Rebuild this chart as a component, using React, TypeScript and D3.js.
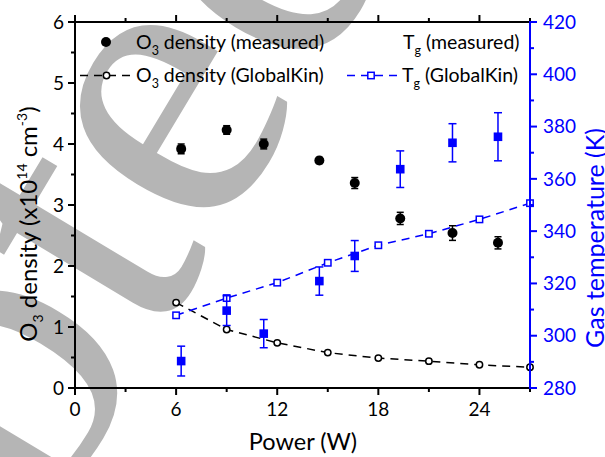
import React from 'react';
import * as d3 from 'd3';

// measured values (error bars are +/-)
const measPower = [6.3, 9.0, 11.2, 14.5, 16.6, 19.3, 22.4, 25.1];
const measO3 = [3.92, 4.23, 4.0, 3.73, 3.36, 2.78, 2.54, 2.38];
const measO3Err = [0.08, 0.07, 0.08, 0.05, 0.09, 0.1, 0.12, 0.1];
const measTg = [290.3, 309.6, 300.8, 320.9, 330.5, 363.7, 373.8, 376.1];
const measTgErr = [5.7, 5.7, 5.4, 5.4, 5.9, 7.0, 7.3, 9.2];

// GlobalKin model
const modelPower = [6, 9, 12, 15, 18, 21, 24, 27];
const modelO3 = [1.4, 0.96, 0.74, 0.58, 0.49, 0.44, 0.38, 0.34];
const modelTg = [307.8, 314.4, 320.3, 327.9, 334.6, 339.0, 344.5, 350.7];

const xTicks = [0, 6, 12, 18, 24];
const xMinor = [3, 9, 15, 21, 27];
const yLeftTicks = [0, 1, 2, 3, 4, 5, 6];
const yLeftMinor = [0.5, 1.5, 2.5, 3.5, 4.5, 5.5];
const yRightTicks = [280, 300, 320, 340, 360, 380, 400, 420];
const yRightMinor = [290, 310, 330, 350, 370, 390, 410];

const FONT = 'Lato, "Open Sans", sans-serif';
const BLUE = '#0000ff';

export default function App() {
  const W = 605, H = 457;
  const x = d3.scaleLinear().domain([0, 27]).range([75, 530]);
  const yL = d3.scaleLinear().domain([0, 6]).range([388, 22]);
  const yR = d3.scaleLinear().domain([280, 420]).range([388, 22]);

  const o3Line = d3.line<number>().x((_, i) => x(modelPower[i])).y(d => yL(d));
  const tgLine = d3.line<number>().x((_, i) => x(modelPower[i])).y(d => yR(d));

  const [x0, x1] = x.range();
  const [yb, yt] = yL.range();

  return (
    <svg width={W} height={H} style={{ position: 'absolute', left: 0, top: 0, background: '#fff' }}
      fontFamily={FONT}>
      {/* watermark behind the plot */}
      <text transform="translate(-400,1268) rotate(-59)" fontFamily='"Liberation Serif", serif'
        fontSize={420} fill="#b5b5b5">Accepted Manuscript</text>

      {/* model lines */}
      <path d={o3Line(modelO3) || ''} fill="none" stroke="#000" strokeWidth={1.5} strokeDasharray="8,6" />
      <path d={tgLine(modelTg) || ''} fill="none" stroke={BLUE} strokeWidth={1.5} strokeDasharray="8,6" />
      {modelO3.map((v, i) => (
        <circle key={'mo' + i} cx={x(modelPower[i])} cy={yL(v)} r={3.2} fill="#fff" stroke="#000" strokeWidth={1.5} />
      ))}
      {modelTg.map((v, i) => (
        <rect key={'mt' + i} x={x(modelPower[i]) - 3.2} y={yR(v) - 3.2} width={6.4} height={6.4}
          fill="#fff" stroke={BLUE} strokeWidth={1.5} />
      ))}

      {/* measured O3 */}
      {measO3.map((v, i) => {
        const cx = x(measPower[i]);
        return (
          <g key={'o' + i} stroke="#000" strokeWidth={1.5}>
            <line x1={cx} x2={cx} y1={yL(v - measO3Err[i])} y2={yL(v + measO3Err[i])} />
            <line x1={cx - 3.5} x2={cx + 3.5} y1={yL(v - measO3Err[i])} y2={yL(v - measO3Err[i])} />
            <line x1={cx - 3.5} x2={cx + 3.5} y1={yL(v + measO3Err[i])} y2={yL(v + measO3Err[i])} />
            <circle cx={cx} cy={yL(v)} r={5} fill="#000" stroke="none" />
          </g>
        );
      })}

      {/* measured Tg */}
      {measTg.map((v, i) => {
        const cx = x(measPower[i]);
        return (
          <g key={'t' + i} stroke={BLUE} strokeWidth={1.5}>
            <line x1={cx} x2={cx} y1={yR(v - measTgErr[i])} y2={yR(v + measTgErr[i])} />
            <line x1={cx - 4} x2={cx + 4} y1={yR(v - measTgErr[i])} y2={yR(v - measTgErr[i])} />
            <line x1={cx - 4} x2={cx + 4} y1={yR(v + measTgErr[i])} y2={yR(v + measTgErr[i])} />
            <rect x={cx - 4.3} y={yR(v) - 4.3} width={8.6} height={8.6} fill={BLUE} stroke="none" />
          </g>
        );
      })}

      {/* frame: bottom / top / left black, right blue */}
      <g stroke="#000" strokeWidth={2}>
        <line x1={x0} x2={x1} y1={yb} y2={yb} />
        <line x1={x0} x2={x1} y1={yt} y2={yt} />
        <line x1={x0} x2={x0} y1={yt - 1} y2={yb + 1} />
        {xTicks.map(t => (
          <g key={'xt' + t}>
            <line x1={x(t)} x2={x(t)} y1={yb} y2={yb + 7} />
            <line x1={x(t)} x2={x(t)} y1={yt} y2={yt - 7} />
          </g>
        ))}
        {xMinor.map(t => (
          <g key={'xm' + t}>
            <line x1={x(t)} x2={x(t)} y1={yb} y2={yb + 4} />
            <line x1={x(t)} x2={x(t)} y1={yt} y2={yt - 4} />
          </g>
        ))}
        {yLeftTicks.map(t => <line key={'yl' + t} x1={x0} x2={x0 - 7} y1={yL(t)} y2={yL(t)} />)}
        {yLeftMinor.map(t => <line key={'ylm' + t} x1={x0} x2={x0 - 4} y1={yL(t)} y2={yL(t)} />)}
      </g>
      <g stroke={BLUE} strokeWidth={2}>
        <line x1={x1} x2={x1} y1={yt - 1} y2={yb + 1} />
        {yRightTicks.map(t => <line key={'yr' + t} x1={x1} x2={x1 + 7} y1={yR(t)} y2={yR(t)} />)}
        {yRightMinor.map(t => <line key={'yrm' + t} x1={x1} x2={x1 + 4} y1={yR(t)} y2={yR(t)} />)}
      </g>

      {/* tick labels */}
      <g fontSize={19} fill="#000">
        {xTicks.map(t => (
          <text key={'xl' + t} x={x(t)} y={416} textAnchor="middle">{t}</text>
        ))}
        {yLeftTicks.map(t => (
          <text key={'yll' + t} x={64} y={yL(t)} dy="0.35em" textAnchor="end">{t}</text>
        ))}
      </g>
      <g fontSize={19} fill={BLUE}>
        {yRightTicks.map(t => (
          <text key={'yrl' + t} x={543} y={yR(t)} dy="0.35em">{t}</text>
        ))}
      </g>

      {/* axis titles */}
      <text x={303} y={450} fontSize={23.5} textAnchor="middle">Power (W)</text>
      <text transform="translate(37,224) rotate(-90)" fontSize={24} textAnchor="middle">
        O<tspan fontSize={14} dy={6}>3</tspan><tspan dy={-6}> density (x10</tspan>
        <tspan fontSize={14} dy={-10}>14</tspan><tspan dy={10}> cm</tspan>
        <tspan fontSize={14} dy={-10}>-3</tspan><tspan dy={10}>)</tspan>
      </text>
      <text transform="translate(604,238) rotate(-90)" fontSize={25} textAnchor="middle" fill={BLUE}>
        Gas temperature (K)
      </text>

      {/* legend */}
      <g fontSize={19.5}>
        <circle cx={106} cy={42} r={5} fill="#000" />
        <text x={136} y={49}>O<tspan fontSize={12.5} dy={6}>3</tspan><tspan dy={-6}> density (measured)</tspan></text>
        <line x1={80} x2={131} y1={75.5} y2={75.5} stroke="#000" strokeWidth={1.5} strokeDasharray="8,6" />
        <circle cx={106.5} cy={75.5} r={3.2} fill="#fff" stroke="#000" strokeWidth={1.5} />
        <text x={136} y={82}>O<tspan fontSize={12.5} dy={6}>3</tspan><tspan dy={-6}> density (GlobalKin)</tspan></text>

        <text x={403} y={49}>T<tspan fontSize={12.5} dy={6}>g</tspan><tspan dy={-6}> (measured)</tspan></text>
        <line x1={347} x2={397} y1={75.5} y2={75.5} stroke={BLUE} strokeWidth={1.5} strokeDasharray="8,6" />
        <rect x={367.8} y={72.3} width={6.4} height={6.4} fill="#fff" stroke={BLUE} strokeWidth={1.5} />
        <text x={402} y={82}>T<tspan fontSize={12.5} dy={6}>g</tspan><tspan dy={-6}> (GlobalKin)</tspan></text>
      </g>
    </svg>
  );
}
